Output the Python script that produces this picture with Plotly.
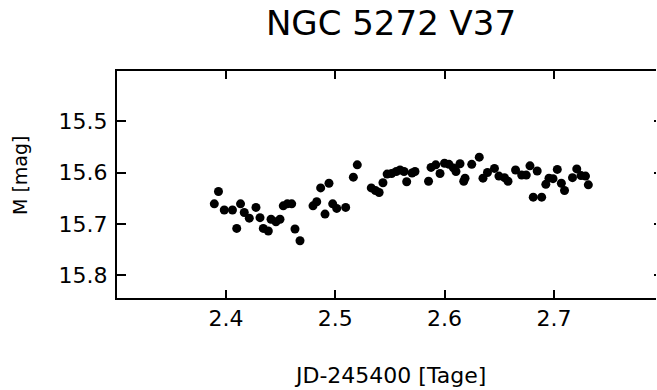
import plotly.graph_objects as go

# Julian date offset values (days) and magnitudes
jd = [2.3893, 2.3931, 2.3984, 2.4059, 2.4098, 2.4133, 2.4167, 2.4213, 2.4274, 2.4311,
      2.4341, 2.4387, 2.4412, 2.4457, 2.4494, 2.4524, 2.4561, 2.4601, 2.4631, 2.4677,
      2.4796, 2.4830, 2.4866, 2.4906, 2.4942, 2.4976, 2.5013, 2.5095, 2.5165, 2.5201,
      2.5329, 2.5367, 2.5401, 2.5436, 2.5474, 2.5515, 2.5558, 2.5592, 2.5629, 2.5653,
      2.5702, 2.5729, 2.5853, 2.5876, 2.5919, 2.5958, 2.5999, 2.6040, 2.6081, 2.6104,
      2.6141, 2.6175, 2.6187, 2.6248, 2.6317, 2.6351, 2.6392, 2.6456, 2.6497, 2.6548,
      2.6580, 2.6649, 2.6705, 2.6747, 2.6781, 2.6811, 2.6847, 2.6888, 2.6926, 2.6955,
      2.6992, 2.7031, 2.7068, 2.7097, 2.7170, 2.7209, 2.7248, 2.7289, 2.7315]
mag = [15.661, 15.637, 15.673, 15.673, 15.709, 15.661, 15.678, 15.689, 15.668, 15.688,
       15.709, 15.714, 15.691, 15.696, 15.691, 15.665, 15.661, 15.661, 15.710, 15.733,
       15.665, 15.657, 15.630, 15.681, 15.621, 15.661, 15.670, 15.668, 15.609, 15.585,
       15.630, 15.635, 15.639, 15.620, 15.603, 15.602, 15.598, 15.595, 15.598, 15.618,
       15.601, 15.598, 15.617, 15.590, 15.585, 15.602, 15.582, 15.584, 15.591, 15.598,
       15.583, 15.617, 15.611, 15.584, 15.570, 15.611, 15.600, 15.592, 15.607, 15.610,
       15.617, 15.595, 15.605, 15.605, 15.587, 15.648, 15.597, 15.648, 15.623, 15.611,
       15.612, 15.594, 15.621, 15.635, 15.610, 15.593, 15.606, 15.607, 15.624]

x_ticks = [2.4, 2.5, 2.6, 2.7]
y_ticks = [15.5, 15.6, 15.7, 15.8]
x_range = [2.30027, 2.7934]
y_range = [15.8446, 15.4021]

FONT = "DejaVu Sans"

fig = go.Figure()
fig.add_trace(go.Scatter(
    x=jd, y=mag, mode="markers",
    marker=dict(color="black", size=9, line=dict(width=0)),
    showlegend=False,
))
# invisible trace to activate right-side tick axis
fig.add_trace(go.Scatter(x=[jd[0]], y=[mag[0]], yaxis="y2", mode="markers",
                         marker=dict(opacity=0), showlegend=False, hoverinfo="skip"))

fig.update_layout(
    width=657, height=390,
    margin=dict(l=117, r=1, t=71, b=92),
    paper_bgcolor="white", plot_bgcolor="white",
    font=dict(family=FONT, color="black", size=22),
    title=dict(text="NGC 5272 V37", x=391/657, xanchor="center", xref="container",
               y=1 - 23/390, yanchor="middle", yref="container",
               font=dict(family=FONT, size=34, color="black")),
    xaxis=dict(range=x_range, tickvals=x_ticks, ticktext=[f"{v:.1f}" for v in x_ticks],
               showgrid=False, zeroline=False, showline=True, linecolor="black",
               linewidth=2, mirror="ticks", ticks="inside", ticklen=8, tickwidth=2,
               tickcolor="black", tickfont=dict(family=FONT, size=22)),
    yaxis=dict(range=y_range, tickvals=y_ticks, ticktext=[f"{v:.1f}" for v in y_ticks],
               showgrid=False, zeroline=False, showline=True, linecolor="black",
               linewidth=2, mirror=False, ticks="inside", ticklen=9, tickwidth=2,
               tickcolor="black", tickfont=dict(family=FONT, size=22),
               ticklabelstandoff=3),
    yaxis2=dict(range=y_range, tickvals=y_ticks, overlaying="y", side="right",
                showgrid=False, zeroline=False, showline=False, showticklabels=False,
                ticks="inside", ticklen=2, tickwidth=2, tickcolor="black"),
    annotations=[
        dict(text="JD-245400 [Tage]", x=390, xref="paper", y=0, yref="paper",
             showarrow=False, font=dict(family=FONT, size=22)),
        dict(text="M [mag]", textangle=-90, x=0, xref="paper", y=0.5, yref="paper",
             showarrow=False, font=dict(family=FONT, size=19)),
    ],
)

# place axis titles with pixel offsets
W, H, L, R, T, B = 657, 390, 117, 1, 71, 92
pw = W - L - R
ph = H - T - B
fig.layout.annotations[0].update(x=(390 - L) / pw, y=-(375 - (H - B)) / ph, yanchor="middle", xanchor="center")
fig.layout.annotations[1].update(x=-(L - 20) / pw, y=(H - B - 176) / ph, xanchor="center", yanchor="middle")

fig.write_html("out.html")
